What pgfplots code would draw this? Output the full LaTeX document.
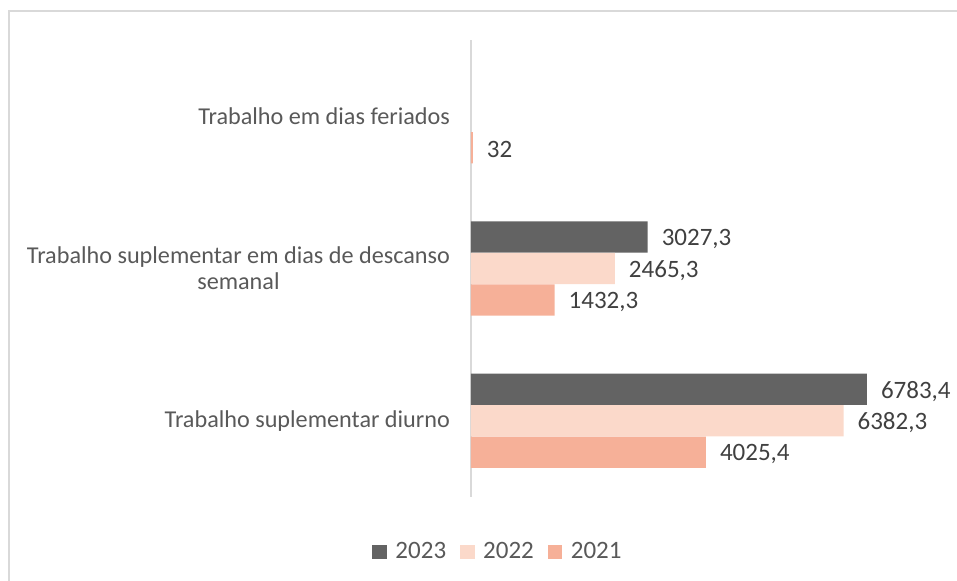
\documentclass[border=0pt]{standalone}
\usepackage{fontspec}
\setmainfont{Carlito}
\usepackage{pgfplots}
\pgfplotsset{compat=1.18}
\definecolor{c2023}{RGB}{99,99,99}
\definecolor{c2022}{RGB}{251,217,202}
\definecolor{c2021}{RGB}{246,176,152}
\definecolor{txt}{RGB}{89,89,89}
\definecolor{lbl}{RGB}{64,64,64}
\definecolor{frame}{RGB}{217,217,217}
\begin{document}
\begin{tikzpicture}
\begin{axis}[
  at={(0pt,0pt)}, anchor=south west,
  scale only axis,
  width=233.5pt, height=228.5pt,
  xmin=0, xmax=8000,
  ymin=-0.5, ymax=2.5,
  xbar, bar width=15.6pt,
  axis lines*=left,
  x axis line style={draw=none},
  y axis line style={draw=frame, line width=0.75pt},
  xtick=\empty,
  ytick={0,1,2},
  yticklabels={Trabalho suplementar diurno, {Trabalho suplementar em dias de descanso\\semanal}, Trabalho em dias feriados},
  yticklabel style={align=center, text=txt, font=\fontsize{12.1pt}{13pt}\selectfont, xshift=-7pt},
  major tick length=0pt,
  /pgf/number format/assume math mode=true,
  nodes near coords={\pgfmathprintnumber[use comma,fixed,precision=1,1000 sep={}]{\pgfplotspointmeta}},
  nodes near coords style={text=lbl, font=\fontsize{12.5pt}{13.5pt}\selectfont, anchor=west, xshift=3.5pt, yshift=-1pt},
  point meta=explicit,
  legend columns=3,
  legend style={draw=none, at={(0.06,-0.12)}, anchor=center, font=\fontsize{12.5pt}{13.5pt}\selectfont, text=txt,
    /tikz/every even column/.append style={column sep=5pt}},
  legend image code/.code={\fill[#1] (0pt,-3.6pt) rectangle (7.2pt,3.6pt); \path (9.5pt,0pt);},
  clip=false,
]
\addplot+[draw=none, fill=c2023, bar shift=15.75pt] coordinates {(6783.4,0) [6783.4] (3027.3,1) [3027.3]};
\addlegendentry{2023}
\addplot+[draw=none, fill=c2022, bar shift=0pt] coordinates {(6382.3,0) [6382.3] (2465.3,1) [2465.3]};
\addlegendentry{2022}
\addplot+[draw=none, fill=c2021, bar shift=-15.75pt] coordinates {(4025.4,0) [4025.4] (1432.3,1) [1432.3] (32,2) [32]};
\addlegendentry{2021}
\end{axis}
\pgfresetboundingbox
\path[use as bounding box] (-235.5pt,-42pt) rectangle (243pt,248.5pt);
\draw[frame, line width=0.75pt] (-231pt,-50pt) -- (-231pt,243pt) -- (250pt,243pt);
\end{tikzpicture}
\end{document}
